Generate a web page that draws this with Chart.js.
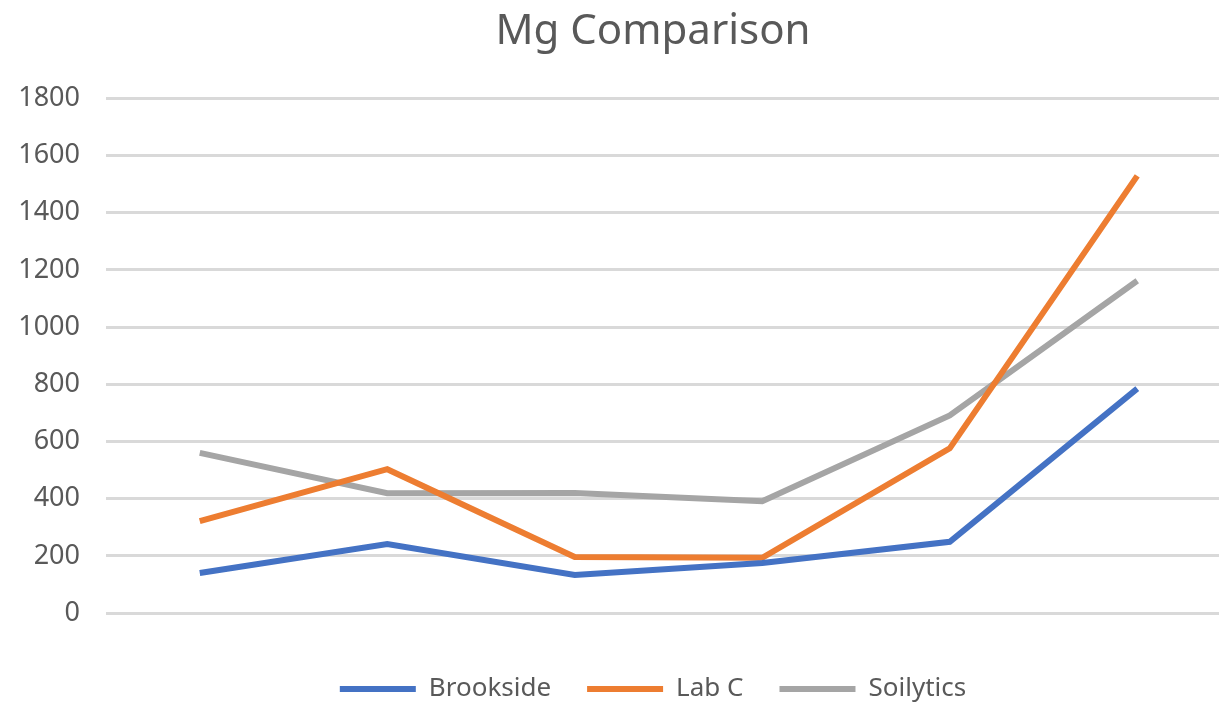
<!DOCTYPE html>
<html>
<head>
<meta charset="utf-8">
<title>Mg Comparison</title>
<script src="https://cdn.jsdelivr.net/npm/chart.js@4"></script>
<style>
  html, body { margin: 0; padding: 0; background: #fff; overflow: hidden; }
  #wrap { width: 1306px; height: 712px; }
</style>
</head>
<body>
<div id="wrap"><canvas id="mgChart"></canvas></div>
<script>
// 시료 6개 (축 라벨은 표시하지 않음)
const samples = ['S1', 'S2', 'S3', 'S4', 'S5', 'S6'];

// 기관별 Mg 측정값
const brookside = [140, 241, 133, 175, 249, 785];
const labC = [321, 503, 196, 193, 576, 1529];
const soilytics = [560, 419, 420, 391, 691, 1162];

// y축 눈금
const yTicks = [0, 200, 400, 600, 800, 1000, 1200, 1400, 1600, 1800];

const textColor = '#595959';
const fontFamily = '"Noto Sans", "Open Sans", sans-serif';

function series(label, data, color) {
    return {
        label: label,
        data: data,
        borderColor: color,
        backgroundColor: color,
        borderWidth: 6,
        pointRadius: 0,
        pointHoverRadius: 0,
        tension: 0,
        fill: false
    };
}

const ctx = document.getElementById('mgChart').getContext('2d');

new Chart(ctx, {
    type: 'line',
    data: {
        labels: samples,
        datasets: [
            series('Brookside', brookside, '#4472C4'),
            series('Lab C', labC, '#ED7D31'),
            series('Soilytics', soilytics, '#A5A5A5')
        ]
    },
    options: {
        responsive: true,
        maintainAspectRatio: false,
        animation: false,
        layout: { padding: 0 },
        plugins: {
            title: {
                display: true,
                text: 'Mg Comparison',
                color: textColor,
                font: { family: fontFamily, size: 42, weight: 'normal' },
                padding: { top: 7, bottom: 41 }
            },
            legend: {
                position: 'bottom',
                labels: {
                    color: textColor,
                    font: { family: fontFamily, size: 26 },
                    usePointStyle: true,
                    pointStyle: 'line',
                    pointStyleWidth: 76,
                    boxHeight: 6,
                    padding: 36
                }
            },
            tooltip: { enabled: false }
        },
        scales: {
            x: {
                offset: true,
                grid: { display: false, drawTicks: false },
                border: { display: false },
                ticks: { display: false },
                afterFit: axis => { axis.height = 27; }
            },
            y: {
                min: 0,
                max: 1800,
                afterBuildTicks: axis => { axis.ticks = yTicks.map(v => ({ value: v })); },
                afterFit: axis => { axis.width = 106; },
                grid: { color: '#D9D9D9', lineWidth: 3, drawTicks: false },
                border: { display: false },
                ticks: {
                    color: textColor,
                    font: { family: fontFamily, size: 27 },
                    padding: 26,
                    callback: v => String(v)
                }
            },
            // 오른쪽 여백용 빈 축
            yRight: {
                position: 'right',
                grid: { display: false, drawTicks: false },
                border: { display: false },
                ticks: { display: false },
                afterFit: axis => { axis.width = 75; }
            }
        }
    }
});
</script>
</body>
</html>
